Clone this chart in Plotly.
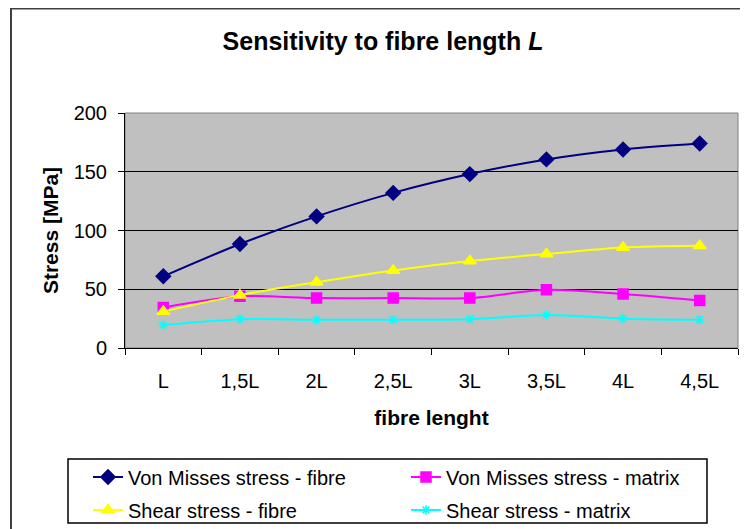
import plotly.graph_objects as go

categories = ["L", "1,5L", "2L", "2,5L", "3L", "3,5L", "4L", "4,5L"]
von_mises_fibre = [61, 88.5, 112, 132, 148, 160.5, 169, 174]
von_mises_matrix = [34.5, 44, 42.5, 42.5, 42.5, 49.5, 46, 40.5]
shear_fibre = [31, 45, 56, 66, 74, 80, 85.5, 87]
shear_matrix = [19.5, 24.5, 24, 24, 24.5, 28, 25, 24]
y_ticks = [0, 50, 100, 150, 200]

FONT = "Liberation Sans, Arial, sans-serif"

# page body has an 8px margin; figure coordinates below are window coords - 8.
# The figure is made a little taller than the visible window so the legend has room.
OFF = 8
W, H = 748 - OFF, 545
L, R, T = 125 - OFF, 748 - 738, 113 - OFF
B = H - (348 - OFF)
pw, ph = W - L - R, H - T - B

def px(x):  # window px -> paper x
    return (x - OFF - L) / pw

def py(y):  # window px -> paper y
    return (H - B - (y - OFF)) / ph

fig = go.Figure()
series = [
    ("Von Misses stress - fibre", von_mises_fibre, "#000080", "diamond", 11, "legend"),
    ("Von Misses stress - matrix", von_mises_matrix, "#FF00FF", "square", 10, "legend"),
    ("Shear stress - fibre", shear_fibre, "#FFFF00", "triangle-up", 11, "legend2"),
    ("Shear stress - matrix", shear_matrix, "#00FFFF", "asterisk-open", 8, "legend2"),
]
for name, vals, col, sym, size, leg in series:
    fig.add_trace(go.Scatter(
        x=categories, y=vals, name=name, mode="lines+markers", legend=leg,
        line=dict(color=col, width=2, shape="spline", smoothing=0.8),
        marker=dict(symbol=sym, size=size, color=col, line=dict(color=col, width=1.5)),
    ))

leg_common = dict(orientation="h", xanchor="left", yanchor="middle",
                  borderwidth=0, bgcolor="rgba(0,0,0,0)",
                  font=dict(size=20, family=FONT), entrywidth=273,
                  entrywidthmode="pixels", traceorder="normal")

fig.update_layout(
    width=W, height=H,
    margin=dict(l=L, r=R, t=T, b=B, pad=0),
    paper_bgcolor="white",
    plot_bgcolor="#C0C0C0",
    font=dict(family=FONT, color="black", size=20),
    title=dict(text="<b>Sensitivity to fibre length <i>L</i></b>", x=(383 - OFF) / W, xanchor="center",
               y=1 - (41 - OFF) / H, yanchor="middle", font=dict(size=25, family=FONT)),
    xaxis=dict(
        type="category", range=[-0.5, 7.5], tickson="boundaries",
        showgrid=False, showline=True, linecolor="black", linewidth=1,
        ticks="outside", ticklen=6, tickcolor="black",
        ticklabelstandoff=15, tickfont=dict(size=20),
        title=dict(text="<b>fibre lenght</b>", font=dict(size=21), standoff=19),
        zeroline=False, automargin=False,
    ),
    yaxis=dict(
        range=[0, 200], tickvals=y_ticks, showgrid=True, gridcolor="black", gridwidth=1,
        showline=True, linecolor="black", linewidth=1,
        ticks="outside", ticklen=6, tickcolor="black",
        ticklabelstandoff=7, tickfont=dict(size=20),
        title=dict(text="<b>Stress [MPa]</b>", font=dict(size=21), standoff=9),
        zeroline=False, automargin=False,
    ),
    legend=dict(x=px(88), y=py(477), **leg_common),
    legend2=dict(x=px(88), y=py(510), **leg_common),
    showlegend=True,
)

# plot-area outline (grey)
fig.add_shape(type="rect", xref="paper", yref="paper", x0=0, x1=1, y0=0, y1=1,
              line=dict(color="#808080", width=1), layer="below")
# legend box
fig.add_shape(type="rect", xref="paper", yref="paper",
              x0=px(68), x1=px(707), y0=py(523), y1=py(459),
              line=dict(color="black", width=1.5), fillcolor="white", layer="below")
# outer chart frame
fig.add_shape(type="rect", xref="paper", yref="paper",
              x0=px(11), y0=py(600), x1=px(820), y1=py(8.6),
              line=dict(color="#404040", width=2))

fig.write_html("out.html")
